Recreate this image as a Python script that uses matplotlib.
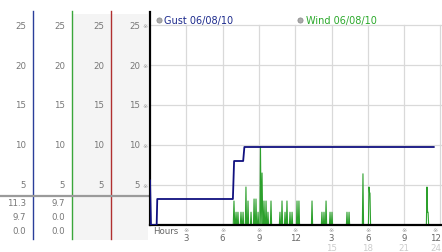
import matplotlib
matplotlib.use("Agg")
import matplotlib.pyplot as plt
from matplotlib.patches import Rectangle

# ---------------- data ----------------
y_ticks = [5, 10, 15, 20, 25]
x_ticks = [3, 6, 9, 12, 15, 18, 21, 24]
x_tick_labels = ["3", "6", "9", "12", "3", "6", "9", "12"]
x_tick_labels2 = ["15", "18", "21", "24"]
col1_values = ["11.3", "9.7", "0.0"]
col2_values = ["9.7", "0.0", "0.0"]
gust_label = "Gust 06/08/10"
wind_label = "Wind 06/08/10"

gust_t = [0.0, 0.0, 0.08, 0.55, 0.60, 6.85, 6.95, 7.70, 7.80, 23.45]
gust_v = [0.0, 5.6, 0.0, 0.0, 3.25, 3.25, 8.0, 8.0, 9.75, 9.75]

wind_t = [0.55, 6.88, 6.94, 7.00, 7.05, 7.11, 7.17, 7.22, 7.27, 7.32, 7.46, 7.52, 7.58,
          7.64, 7.69, 7.74, 7.88, 7.93, 7.98, 8.05, 8.10, 8.15, 8.30, 8.35, 8.40,
          8.55, 8.60, 8.65, 8.71, 8.76, 8.81, 8.88, 8.93, 8.98, 9.08, 9.13, 9.19,
          9.26, 9.32, 9.37, 9.42, 9.48, 9.54, 9.59, 9.64, 9.70, 9.75, 9.80, 9.95,
          10.00, 10.05, 10.69, 10.74, 10.79, 10.86, 10.91, 10.96, 11.11, 11.16, 11.21,
          11.27, 11.32, 11.37, 11.52, 11.57, 11.62, 11.69, 11.74, 11.79, 12.10, 12.15,
          12.20, 12.26, 12.31, 12.36, 13.34, 13.39, 13.44, 14.16, 14.21, 14.26, 14.33,
          14.38, 14.43, 14.50, 14.55, 14.60, 14.83, 14.88, 14.93, 14.99, 15.04, 15.09,
          16.23, 16.28, 16.33, 16.40, 16.45, 16.50, 17.55, 17.60, 17.65, 18.05, 18.10,
          18.14, 18.18, 18.23, 22.84, 22.89, 22.94, 22.98, 23.03, 23.45]
wind_v = [0.0, 0.0, 3.0, 0.0, 0.0, 1.6, 0.0, 0.0, 1.6, 0.0, 0.0, 1.6, 0.0,
          0.0, 1.6, 0.0, 0.0, 4.75, 0.0, 0.0, 3.0, 0.0, 0.0, 1.6, 0.0,
          0.0, 3.25, 0.0, 0.0, 3.25, 0.0, 0.0, 1.6, 0.0, 0.0, 9.75, 0.0,
          6.5, 0.0, 0.0, 3.0, 0.0, 0.0, 3.0, 0.0, 0.0, 1.6, 0.0, 0.0,
          3.0, 0.0, 0.0, 1.6, 0.0, 0.0, 3.0, 0.0, 0.0, 1.6, 0.0,
          0.0, 3.0, 0.0, 0.0, 1.6, 0.0, 0.0, 1.6, 0.0, 0.0, 3.0,
          0.0, 0.0, 3.0, 0.0, 0.0, 3.0, 0.0, 0.0, 1.6, 0.0, 0.0,
          1.6, 0.0, 0.0, 3.0, 0.0, 0.0, 1.6, 0.0, 0.0, 1.6, 0.0,
          0.0, 1.6, 0.0, 0.0, 1.6, 0.0, 0.0, 6.4, 0.0, 0.0, 4.75,
          4.0, 4.0, 0.0, 0.0, 4.75, 1.6, 1.6, 0.0, 0.0]

# ---------------- figure ----------------
W, H = 442, 253
fig = plt.figure(figsize=(W / 100, H / 100), dpi=100)
fig.patch.set_facecolor("white")
plt.rcParams['font.family'] = ['DejaVu Sans']

# overlay in pixel coordinates
ov = fig.add_axes([0, 0, 1, 1])
ov.set_xlim(0, W)
ov.set_ylim(H, 0)
ov.axis("off")

PX0, PY0, PXS, PYS = 150.0, 226.0, 12.1, 8.0  # pixel mapping of data


def ypix(v):
    return PY0 - v * PYS


def xpix(h):
    return PX0 + h * PXS


lab_col = "#777777"
fs = 6.2
# gray background columns
ov.add_patch(Rectangle((72, 15), 76, 226, facecolor="#f4f4f4", edgecolor="none", zorder=0))
# column separators
ov.plot([33, 33], [12, 240], color="#2a3f9a", lw=1.0, zorder=2)
ov.plot([72, 72], [12, 240], color="#3aa63a", lw=1.0, zorder=2)
ov.plot([111, 111], [12, 240], color="#b03030", lw=1.0, zorder=2)
# horizontal separator
ov.plot([0, 149], [197, 197], color="#9a9a9a", lw=1.6, zorder=3)

for v in y_ticks:
    yy = ypix(v)
    for xr in (26, 65, 104, 140):
        ov.text(xr, yy, str(v), ha="right", va="center", fontsize=fs, color=lab_col)
    ov.text(145, yy, "※", ha="center", va="center", fontsize=4.5, color="#999999")

for i, (a, b) in enumerate(zip(col1_values, col2_values)):
    yy = 204 + i * 14
    ov.text(26, yy, a, ha="right", va="center", fontsize=fs, color=lab_col)
    ov.text(65, yy, b, ha="right", va="center", fontsize=fs, color=lab_col)

# legend
ov.scatter([159], [21], s=14, color="#aaaaaa", edgecolors="#888888", linewidths=0.5, zorder=4)
ov.text(164.5, 21, gust_label, ha="left", va="center", fontsize=7.0, color="#1c2a8c")
ov.scatter([300], [21], s=14, color="#aaaaaa", edgecolors="#888888", linewidths=0.5, zorder=4)
ov.text(305.5, 21, wind_label, ha="left", va="center", fontsize=7.0, color="#2aa82a")

# x-axis labels
ov.text(153, 232, "Hours", ha="left", va="center", fontsize=fs, color="#666666")
for t, lab in zip(x_ticks, x_tick_labels):
    xx = xpix(t)
    if t == 24:
        xx -= 5
    ov.text(xx, 231, "※", ha="center", va="center", fontsize=4.5, color="#999999")
    ov.text(xx, 239, lab, ha="center", va="center", fontsize=fs, color="#666666")
for t, lab in zip(x_ticks[4:], x_tick_labels2):
    xx = xpix(t)
    if t == 24:
        xx -= 5
    ov.text(xx, 249, lab, ha="center", va="center", fontsize=fs, color="#cccccc")

# main data axes
ax = fig.add_axes([PX0 / W, (H - PY0) / H, (W - PX0) / W, (PY0 - 13) / H])
ax.set_xlim(0, (W - PX0) / PXS)
ax.set_ylim(0, (PY0 - 13) / PYS)
ax.patch.set_alpha(0)
for s in ["top", "right"]:
    ax.spines[s].set_visible(False)
ax.spines["left"].set_color("black")
ax.spines["left"].set_linewidth(1.6)
ax.spines["bottom"].set_color("black")
ax.spines["bottom"].set_linewidth(1.6)
ax.set_xticks([])
ax.set_yticks([])
gc = "#d9d9d9"
for v in y_ticks:
    ax.axhline(v, color=gc, lw=0.9, zorder=0)
for t in x_ticks:
    ax.plot([t, t], [0, 25], color=gc, lw=0.9, zorder=0)

ax.plot(wind_t, wind_v, color="#2ca02c", lw=0.8, zorder=2)
ax.plot(gust_t, gust_v, color="#10107f", lw=1.3, zorder=3)

fig.savefig("out.png", dpi=100)
